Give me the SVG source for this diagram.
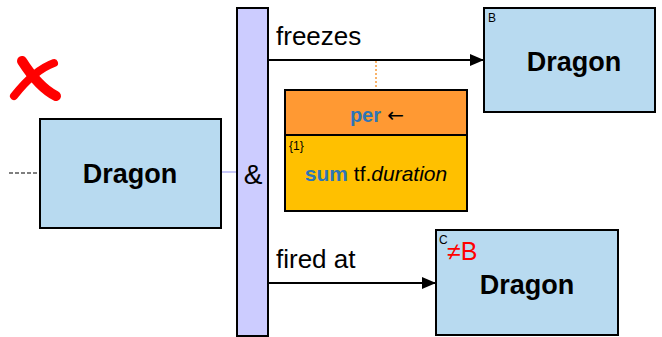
<svg xmlns="http://www.w3.org/2000/svg" width="662" height="337" viewBox="0 0 662 337">
<defs>
<style>
.node{fill:#B8DAF0;stroke:#000;stroke-width:2}
.dr{font-family:"Liberation Sans",Arial,sans-serif;font-weight:bold;font-size:27px;text-anchor:middle;fill:#000}
.lbl{font-family:"Liberation Sans",Arial,sans-serif;font-size:26px;fill:#000}
.sm{font-family:"Liberation Sans",Arial,sans-serif;font-size:12px;fill:#000}
.kw{font-weight:bold;fill:#2E75B6}
.conn{stroke:#000;stroke-width:2;fill:none}
</style>
<marker id="arr" viewBox="0 0 14 12" refX="14" refY="6" markerWidth="14" markerHeight="12" markerUnits="userSpaceOnUse" orient="auto">
<path d="M0,0 L14,6 L0,12 Z" fill="#000"/>
</marker>
</defs>
<rect width="662" height="337" fill="#fff"/>
<g id="cross">
<path d="M22,61 C29,72 40,88 56,96" stroke="#FF0000" stroke-width="10" stroke-linecap="round" fill="none"/>
<path d="M54,63 C40,68 25,82 14,96" stroke="#FF0000" stroke-width="8" stroke-linecap="round" fill="none"/>
</g>
<g id="connectors">
<line x1="9" y1="173" x2="40" y2="173" stroke="#000" stroke-width="1.2" stroke-dasharray="4,2"/>
<line x1="221" y1="172" x2="237" y2="172" stroke="#C8C8F8" stroke-width="2"/>
<line class="conn" x1="268" y1="60" x2="484" y2="60" marker-end="url(#arr)"/>
<line class="conn" x1="268" y1="283" x2="436" y2="283" marker-end="url(#arr)"/>
<line x1="376" y1="61" x2="376" y2="90" stroke="#F79A3A" stroke-width="1.5" stroke-dasharray="2,2"/>
</g>
<g id="dragonA">
<rect class="node" x="40" y="119" width="181" height="109"/>
<text class="dr" x="130" y="183">Dragon</text>
</g>
<g id="and">
<rect x="237" y="8" width="31" height="328" fill="#CCCCFF" stroke="#000" stroke-width="2"/>
<text x="253" y="184" font-family="Liberation Sans,Arial,sans-serif" font-size="28" text-anchor="middle" fill="#000">&amp;</text>
</g>
<g id="labels">
<text class="lbl" x="276" y="45">freezes</text>
<text class="lbl" x="276" y="268">fired at</text>
</g>
<g id="dragonB">
<rect class="node" x="484" y="8" width="171" height="104"/>
<text class="sm" x="488" y="22">B</text>
<text class="dr" x="574" y="71">Dragon</text>
</g>
<g id="dragonC">
<rect class="node" x="436" y="230" width="182" height="105"/>
<text class="sm" x="439" y="244">C</text>
<text x="447" y="260" font-family="Liberation Sans,Arial,sans-serif" font-size="25" fill="#FF0000">≠B</text>
<text class="dr" x="527" y="294">Dragon</text>
</g>
<g id="per">
<rect x="285" y="90" width="182" height="45" fill="#FF9933" stroke="#000" stroke-width="2"/>
<rect x="285" y="135" width="182" height="76" fill="#FFC000" stroke="#000" stroke-width="2"/>
<text x="377" y="122" font-family="Liberation Sans,Arial,sans-serif" font-size="20" text-anchor="middle"><tspan class="kw">per</tspan><tspan fill="#000" font-family="DejaVu Sans,sans-serif"> ←</tspan></text>
<text class="sm" x="289" y="150">{1}</text>
<text x="376" y="181" font-family="Liberation Sans,Arial,sans-serif" font-size="21" text-anchor="middle" fill="#000"><tspan class="kw">sum</tspan> tf.<tspan font-style="italic">duration</tspan></text>
</g>
</svg>
